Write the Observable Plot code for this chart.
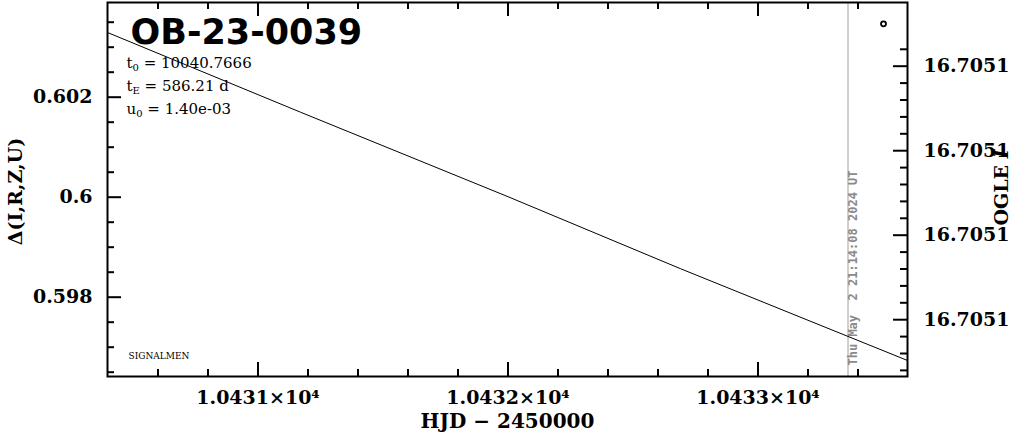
<!DOCTYPE html>
<html><head><meta charset="utf-8">
<script src="https://cdn.jsdelivr.net/npm/d3@7"></script>
<script src="https://cdn.jsdelivr.net/npm/@observablehq/plot@0.6"></script>
<style>
body{margin:0;background:#fff;}
svg{display:block;}
svg text{white-space:pre;}
</style>
</head><body><div id="chart"></div>
<script>
// ---- data ----
const eventName = "OB-23-0039";
const paramSymbols = ["t", "t", "u"];
const paramSubs = ["0", "E", "0"];
const paramValues = ["10040.7666", "586.21 d", "1.40e-03"];
const footerLabel = "SIGNALMEN";

const modelHJD = [10430.40, 10431.17, 10432.00, 10432.69, 10433.60];
const modelDelta = [0.60329, 0.60170, 0.60001, 0.59857, 0.59673];

const obsHJD = [10433.502];
const obsDelta = [0.603468];

const nowHJD = [10433.36];
const nowLabel = ["Thu May  2 21:14:08 2024 UT"];

const xMajorTicks = [10431, 10432, 10433];
const yMajorTicks = [0.598, 0.600, 0.602];
const ogleTickPos = [0.60262, 0.60093, 0.59924, 0.59755];
const ogleTickLabels = ["16.7051", "16.7051", "16.7051", "16.7051"];

const xLabel = "HJD \u2212 2450000";
const yLabel = "\u0394(I,R,Z,U)";
const y2Label = "OGLE I";

const xDomain = [10430.398, 10433.598];
const yDomain = [0.596414, 0.603894];

// ---- derived tables ----
const model = modelHJD.map((x, i) => ({x, y: modelDelta[i]}));
const obs = obsHJD.map((x, i) => ({x, y: obsDelta[i]}));
const params = paramSymbols.map((s, i) => ({s, sub: paramSubs[i], v: paramValues[i], i}));
const paramText = p => `${p.s}${p.sub} = ${p.v}`;
const xMinor = d3.range(10430.6, 10433.5, 0.2).filter(v => !xMajorTicks.some(m => Math.abs(m - v) < 1e-6));
const yMinor = d3.range(0.5965, 0.6039, 0.0005).filter(v => !yMajorTicks.some(m => Math.abs(m - v) < 1e-7));
const ogleStep = (ogleTickPos[0] - ogleTickPos[ogleTickPos.length - 1]) / (ogleTickPos.length - 1);
const ogleMinor = d3.range(-1, 19).filter(k => k % 5 !== 0).map(k => ogleTickPos[0] - ogleStep * k / 5);

const W = 1011, H = 434;
const mL = 107, mR = 104, mT = 2, mB = 58;
const fw = W - mL - mR, fh = H - mT - mB;
const serif = "DejaVu Serif";

const plot = Plot.plot({
  width: W, height: H,
  marginLeft: mL, marginRight: mR, marginTop: mT, marginBottom: mB,
  x: {domain: xDomain, axis: null},
  y: {domain: yDomain, axis: null},
  style: {background: "#fff", fontFamily: serif},
  marks: [
    // "now" line
    Plot.ruleX(nowHJD, {x: d => d, stroke: "#a0a0a0", strokeWidth: 1}),
    Plot.text(nowLabel, {x: () => nowHJD[0], text: d => d, frameAnchor: "bottom", rotate: -90,
      textAnchor: "start", dx: 9, dy: -11, fill: "#8a8a8a", fontFamily: "DejaVu Sans Mono", fontWeight: "bold", fontSize: 12}),
    // model
    Plot.line(model, {x: "x", y: "y", stroke: "black", strokeWidth: 1, clip: true}),
    // observation
    Plot.dot(obs, {x: "x", y: "y", r: 2.5, stroke: "black", strokeWidth: 1.8, fill: "none"}),
    // ticks bottom/top
    Plot.ruleX(xMajorTicks, {x: d => d, insetTop: fh - 14, strokeWidth: 2}),
    Plot.ruleX(xMinor, {x: d => d, insetTop: fh - 7, strokeWidth: 2}),
    Plot.ruleX(xMajorTicks, {x: d => d, insetBottom: fh - 14, strokeWidth: 2}),
    Plot.ruleX(xMinor, {x: d => d, insetBottom: fh - 7, strokeWidth: 2}),
    // ticks left
    Plot.ruleY(yMajorTicks, {y: d => d, insetRight: fw - 14, strokeWidth: 2}),
    Plot.ruleY(yMinor, {y: d => d, insetRight: fw - 7, strokeWidth: 2}),
    // ticks right (OGLE I)
    Plot.ruleY(ogleTickPos, {y: d => d, insetLeft: fw - 14, strokeWidth: 2}),
    Plot.ruleY(ogleMinor, {y: d => d, insetLeft: fw - 7, strokeWidth: 2}),
    Plot.frame({stroke: "black", strokeWidth: 2}),
    // tick labels
    Plot.text(xMajorTicks, {x: d => d, text: d => `${(d / 1e4).toFixed(4)}\u00d710\u2074`, frameAnchor: "bottom",
      lineAnchor: "top", dy: 14, fontSize: 19, fontWeight: "bold"}),
    Plot.text(yMajorTicks, {y: d => d, text: d => String(+d.toFixed(3)), frameAnchor: "left",
      textAnchor: "end", dx: -15, fontSize: 19, fontWeight: "bold"}),
    Plot.text(ogleTickPos, {y: d => d, text: (d, i) => ogleTickLabels[i], frameAnchor: "right",
      textAnchor: "start", dx: 16, fontSize: 19, fontWeight: "bold"}),
    // axis labels
    Plot.text([xLabel], {text: d => d, frameAnchor: "bottom", textAnchor: "middle", lineAnchor: "top", dy: 37, fontSize: 20, fontWeight: "bold"}),
    Plot.text([yLabel], {text: d => d, frameAnchor: "left", textAnchor: "middle", rotate: -90, dx: -92, dy: 2, fontSize: 19, fontWeight: "bold"}),
    Plot.text([y2Label], {text: d => d, frameAnchor: "right", textAnchor: "middle", rotate: -90, dx: 94, dy: -2, fontSize: 19, fontWeight: "bold"}),
    // annotations
    Plot.text([eventName], {text: d => d, frameAnchor: "top-left", textAnchor: "start", lineAnchor: "bottom",
      dx: 23, dy: 41, fontSize: 35, fontWeight: "bold", fontFamily: "DejaVu Sans"}),
    ...params.map((p, k) => Plot.text([p], {text: paramText, frameAnchor: "top-left", textAnchor: "start", lineAnchor: "bottom",
      dx: 19, dy: 65 + 23 * k, fontSize: 15})),
    Plot.text([footerLabel], {text: d => d, frameAnchor: "bottom-left", textAnchor: "start", lineAnchor: "bottom",
      dx: 21, dy: -18, fontSize: 9})
  ]
});

// subscripts for parameter labels, italic I in OGLE I
const svg = d3.select(plot);
svg.selectAll("text").each(function() {
  const t = d3.select(this);
  const content = this.textContent;
  const p = params.find(q => paramText(q) === content);
  if (p) {
    t.text(null);
    t.append("tspan").text(p.s);
    t.append("tspan").attr("font-size", "10").attr("dy", "3").text(p.sub);
    t.append("tspan").attr("dy", "-3").text(` = ${p.v}`);
  } else if (content === y2Label) {
    t.text(null);
    t.append("tspan").text("OGLE ");
    t.append("tspan").attr("font-style", "italic").text("I");
  }
});
document.getElementById("chart").appendChild(plot);
</script>
</body></html>
